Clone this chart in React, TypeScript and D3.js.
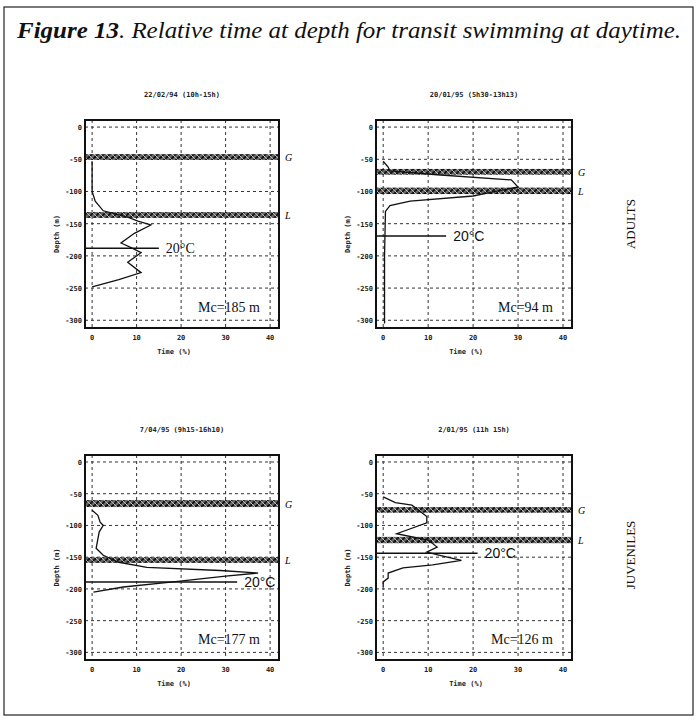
import React from 'react';
import * as d3 from 'd3';

// time at depth profiles: [time %, depth m]
const adults1: [number, number][] = [
  [0, -53], [0, -100], [0.7, -115], [2.5, -130], [8, -140], [10.3, -146], [13.2, -152],
  [9.5, -165], [6.5, -180], [9, -188], [11, -195], [8, -210], [11, -226], [6, -237], [0, -248],
];
const adults2: [number, number][] = [
  [0, -53], [1.1, -62], [1.5, -68], [12, -74], [28.5, -82], [30, -93], [25, -100],
  [20, -107], [6, -115], [1.5, -122], [0.5, -131], [0.3, -200], [0.3, -305],
];
const juveniles1: [number, number][] = [
  [0, -76], [1.3, -84], [1.8, -95], [2.5, -100], [1.6, -110], [0.9, -136], [2.5, -147],
  [6, -158], [12.3, -166], [28.8, -171], [37.3, -175], [30, -180], [18.2, -189], [7, -197], [0.3, -205],
];
const juveniles2: [number, number][] = [
  [0, -55], [2.7, -64], [6.4, -68], [9.7, -86], [9.7, -96], [3, -113], [10, -123], [12, -134],
  [9.7, -142], [12.6, -147], [17.4, -155], [11, -162], [4.4, -167], [1.1, -175], [1.1, -183], [0, -189], [0, -197],
];

const profiles = [adults1, adults2, juveniles1, juveniles2];
const panelTitles = ['22/02/94 (10h-15h)', '20/01/95 (5h30-13h13)', '7/04/95 (9h15-16h10)', '2/01/95 (11h 15h)'];
// G and L layers [top, bottom] depth
const gBands: [number, number][] = [[-42, -51], [-65, -74], [-60, -71], [-71, -80]];
const lBands: [number, number][] = [[-132, -141], [-94, -104], [-150, -159], [-118, -128]];
const thermoDepth = [-188, -169, -189, -144];
const thermoEnd = [15, 14, 32.6, 21];
const mcValues = [185, 94, 177, 126];
const xTicks = [0, 10, 20, 30, 40];
const yTicks = [0, -50, -100, -150, -200, -250, -300];
const groups = ['ADULTS', 'JUVENILES'];

const frames = [
  { x0: 85, x1: 279, y0: 120, y1: 328 },
  { x0: 376, x1: 572, y0: 120, y1: 328 },
  { x0: 85, x1: 279, y0: 455, y1: 660 },
  { x0: 376, x1: 572, y0: 455, y1: 660 },
];

const tiny = { fontFamily: 'DejaVu Sans Mono', fontSize: 7, fontWeight: 700 as const, fill: '#222' };

function Panel({ i }: { i: number }) {
  const f = frames[i];
  const x = d3.scaleLinear().domain([-1.6, 42]).range([f.x0, f.x1]);
  const y = d3.scaleLinear().domain([11, -312]).range([f.y0, f.y1]);
  const line = d3.line<[number, number]>().x(d => x(d[0])).y(d => y(d[1]));
  const cx = (f.x0 + f.x1) / 2;
  const labelFont = i === 0 ? 'Liberation Serif' : 'Liberation Sans';
  const band = (b: [number, number], key: string) => (
    <rect key={key} x={f.x0} width={f.x1 - f.x0} y={y(b[0])} height={y(b[1]) - y(b[0])} fill="url(#hatch)" />
  );
  return (
    <g>
      <text x={cx} y={f.y0 - 23} textAnchor="middle" {...tiny}>{panelTitles[i]}</text>
      {yTicks.map(t => (
        <line key={'gy' + t} x1={f.x0} x2={f.x1} y1={y(t)} y2={y(t)} stroke="#333" strokeDasharray="3,3" />
      ))}
      {xTicks.map(t => (
        <line key={'gx' + t} x1={x(t)} x2={x(t)} y1={f.y0} y2={f.y1} stroke="#333" strokeDasharray="3,3" />
      ))}
      {band(gBands[i], 'g')}
      {band(lBands[i], 'l')}
      <rect x={f.x0} y={f.y0} width={f.x1 - f.x0} height={f.y1 - f.y0} fill="none" stroke="#111" strokeWidth={2} />
      <path d={line(profiles[i]) || ''} fill="none" stroke="#111" strokeWidth={1.3} />
      <line x1={f.x0} x2={x(thermoEnd[i])} y1={y(thermoDepth[i])} y2={y(thermoDepth[i])} stroke="#111" strokeWidth={1.5} />
      <text x={x(thermoEnd[i]) + 7} y={y(thermoDepth[i]) + 5} fontFamily={labelFont} fontSize={14} fill="#111">20°C</text>
      <text x={f.x1 - 19} y={f.y1 - 16} textAnchor="end" fontFamily="Liberation Serif" fontSize={14} fill="#111">Mc={mcValues[i]} m</text>
      <text x={f.x1 + 6} y={y((gBands[i][0] + gBands[i][1]) / 2) + 4} fontFamily="Liberation Serif" fontStyle="italic" fontSize={10}>G</text>
      <text x={f.x1 + 6} y={y((lBands[i][0] + lBands[i][1]) / 2) + 4} fontFamily="Liberation Serif" fontStyle="italic" fontSize={10}>L</text>
      {yTicks.map(t => (
        <text key={'ty' + t} x={f.x0 - 3} y={y(t) + 3} textAnchor="end" {...tiny}>{t}</text>
      ))}
      {xTicks.map(t => (
        <text key={'tx' + t} x={x(t)} y={f.y1 + 12} textAnchor="middle" {...tiny}>{t}</text>
      ))}
      <text x={cx - 8} y={f.y1 + 26} textAnchor="middle" {...tiny}>Time (%)</text>
      <text transform={`translate(${f.x0 - 26},${(f.y0 + f.y1) / 2 + 10}) rotate(-90)`} textAnchor="middle" {...tiny}>Depth (m)</text>
    </g>
  );
}

export default function App() {
  return (
    <svg width={697} height={725} style={{ position: 'absolute', left: 0, top: 0, background: '#fff' }}>
      <defs>
        <pattern id="hatch" width={6} height={6} patternUnits="userSpaceOnUse">
          <rect width={6} height={6} fill="#666" />
          <path d="M0,6 L6,0" stroke="#111" strokeWidth={1.8} />
          <path d="M0,0 L6,6" stroke="#ddd" strokeWidth={0.7} />
        </pattern>
      </defs>
      <rect x={4} y={7} width={689} height={708} fill="none" stroke="#222" strokeWidth={1.2} />
      <text x={17} y={38} fontFamily="Liberation Serif" fontStyle="italic" fontSize={23} fill="#111"
        textLength={664} lengthAdjust="spacingAndGlyphs">
        <tspan fontWeight={700}>Figure 13</tspan>. Relative time at depth for transit swimming at daytime.
      </text>
      {frames.map((_, i) => <Panel key={i} i={i} />)}
      {groups.map((g, k) => (
        <text key={g} transform={`translate(${635},${k === 0 ? 224 : 555}) rotate(-90)`} textAnchor="middle"
          fontFamily="Liberation Serif" fontSize={13} fill="#111">{g}</text>
      ))}
    </svg>
  );
}
